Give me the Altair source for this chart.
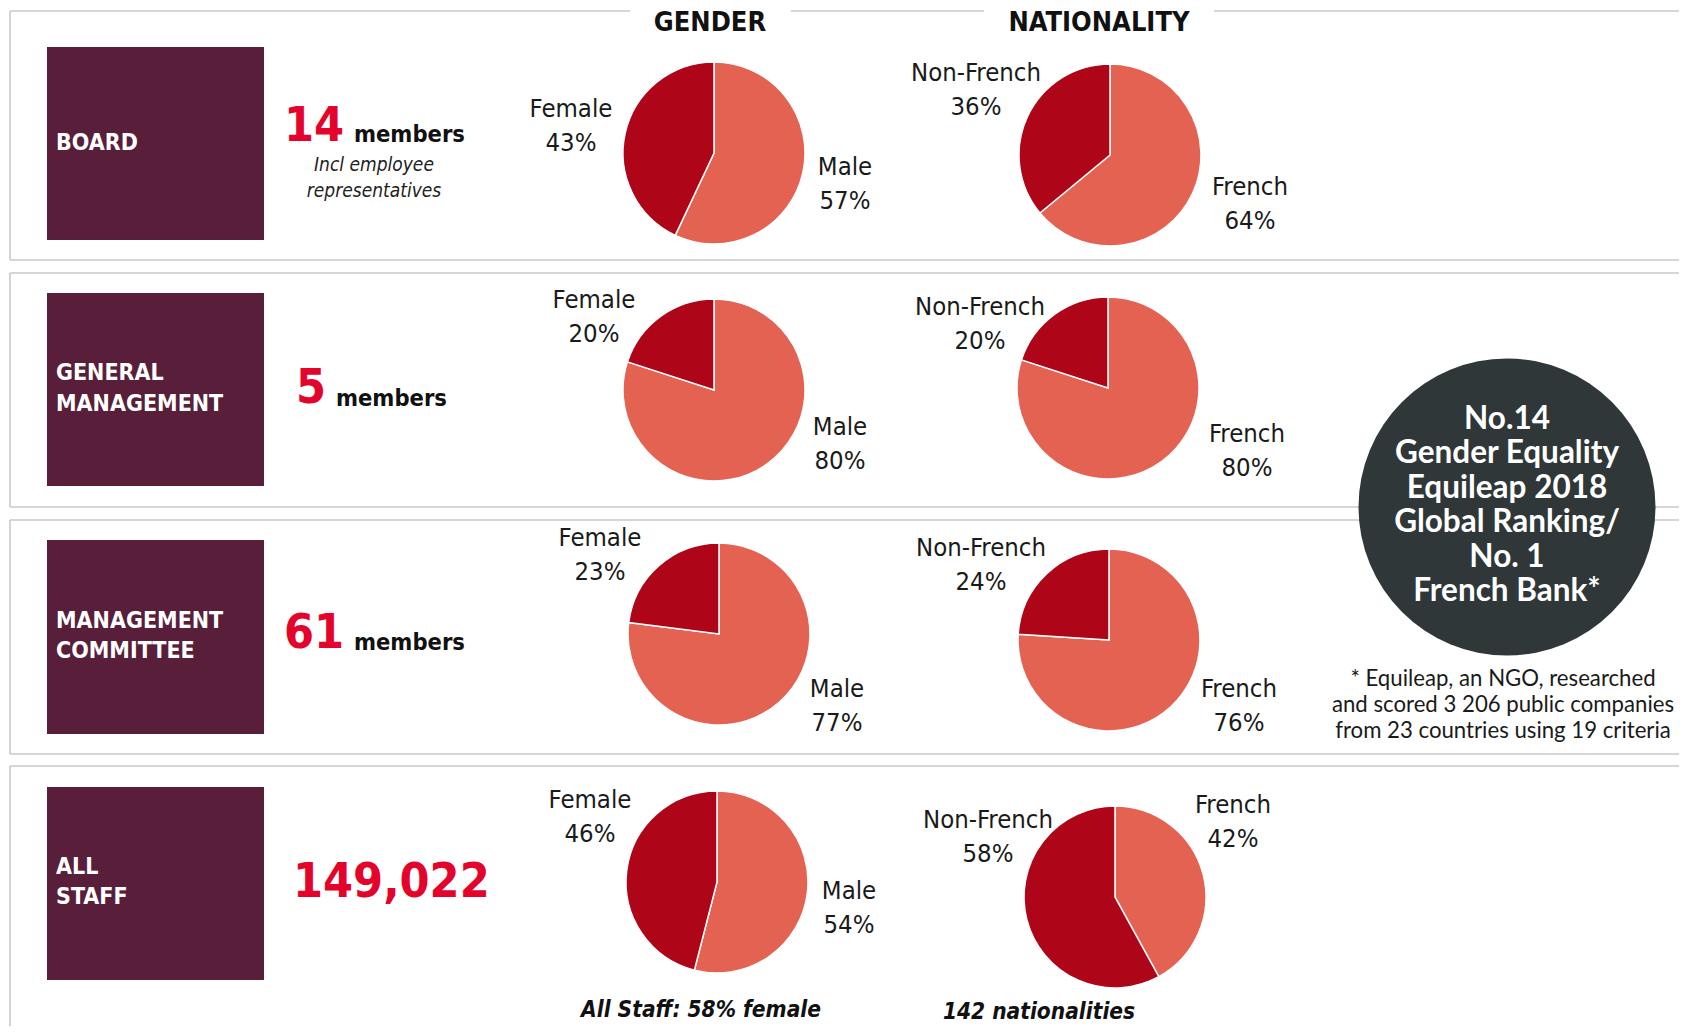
import math
import altair as alt
import pandas as pd

# ---------------- data ----------------
groups = ["BOARD", "GENERAL MANAGEMENT", "MANAGEMENT COMMITTEE", "ALL STAFF"]
group_lines = [["BOARD"], ["GENERAL", "MANAGEMENT"], ["MANAGEMENT", "COMMITTEE"], ["ALL", "STAFF"]]
member_counts = ["14", "5", "61", "149,022"]
member_word = ["members", "members", "members", ""]
female_pct = [43, 20, 23, 46]
male_pct = [57, 80, 77, 54]
non_french_pct = [36, 20, 24, 58]
french_pct = [64, 80, 76, 42]
gender_labels = ["Female", "Male"]
nat_labels = ["Non-French", "French"]
headers = ["GENDER", "NATIONALITY"]
board_note = ["Incl employee", "representatives"]
badge_lines = ["No.14", "Gender Equality", "Equileap 2018", "Global Ranking/", "No. 1", "French Bank*"]
footnote_lines = ["* Equileap, an NGO, researched", "and scored 3 206 public companies",
                  "from 23 countries using 19 criteria"]
captions = ["All Staff: 58% female", "142 nationalities"]

# ---------------- layout (page pixels) ----------------
W, H = 1671, 1018
X0, Y0 = 8, 8
XMAX, YMAX = X0 + W, Y0 + H
xs = alt.Scale(domain=[X0, XMAX], range=[0, W])
ys = alt.Scale(domain=[Y0, YMAX], range=[0, H])

COND = "Liberation Sans Narrow, DejaVu Sans Condensed, Roboto, sans-serif"
SANS = "Lato, Open Sans, sans-serif"
GREY = "#c9c9c9"
PURPLE = "#581e3a"
DARK = "#ae0519"
LIGHT = "#e46252"
RED = "#e4032a"
CIRCLE = "#2f3739"

gender_centers = [(714, 153), (714, 390), (719, 634), (717, 882)]
nat_centers = [(1110, 155), (1108, 388), (1109, 640), (1115, 897)]
pie_r = 91
box_y = [(47, 240), (293, 486), (540, 734), (787, 980)]
box_x = (47, 264)
box_label_y = [[143], [373, 404], [621, 651], [867, 897]]
count_pos = [(284, 127), (296, 389), (284, 634), (293, 883)]
member_pos = [(354, 135), (336, 399), (354, 643), (0, 0)]

gender_label_pos = [((571, 109), (845, 167)), ((594, 300), (840, 427)),
                    ((600, 538), (837, 689)), ((590, 800), (849, 891))]
nat_label_pos = [((976, 73), (1250, 187)), ((980, 307), (1247, 434)),
                 ((981, 548), (1239, 689)), ((988, 820), (1233, 805))]
LINE_GAP = 34

X = lambda f: alt.X(f, type="quantitative", scale=xs, axis=None)
Y = lambda f: alt.Y(f, type="quantitative", scale=ys, axis=None)

# ---------------- panel lines ----------------
seg = []
def hline(y, xa, xb):
    seg.append(dict(x=xa, x2=min(xb, XMAX), y=y, y2=y))
def vline(x, ya, yb):
    seg.append(dict(x=x, x2=x, y=ya, y2=min(yb, YMAX)))

hline(11, 10, 630); hline(11, 791, 984); hline(11, 1214, XMAX)
hline(260, 10, XMAX); vline(10, 11, 260)
hline(273, 10, XMAX); hline(507, 10, XMAX); vline(10, 273, 507)
hline(520, 10, XMAX); hline(754, 10, XMAX); vline(10, 520, 754)
hline(766, 10, XMAX); vline(10, 766, YMAX)
lines = alt.Chart(pd.DataFrame(seg)).mark_rule(color=GREY, strokeWidth=1.6).encode(
    x=X("x"), x2="x2", y=Y("y"), y2="y2")

# ---------------- purple boxes ----------------
boxes = pd.DataFrame([dict(x=box_x[0], x2=box_x[1], y=a, y2=b) for a, b in box_y])
box_layer = alt.Chart(boxes).mark_rect(color=PURPLE).encode(x=X("x"), x2="x2", y=Y("y"), y2="y2")

# ---------------- pies ----------------
pie_rows = []
for i in range(4):
    cx, cy = gender_centers[i]
    pie_rows.append(dict(pie=f"g{i}", order=0, value=male_pct[i], kind="light", cx=cx, cy=cy))
    pie_rows.append(dict(pie=f"g{i}", order=1, value=female_pct[i], kind="dark", cx=cx, cy=cy))
    cx, cy = nat_centers[i]
    pie_rows.append(dict(pie=f"n{i}", order=0, value=french_pct[i], kind="light", cx=cx, cy=cy))
    pie_rows.append(dict(pie=f"n{i}", order=1, value=non_french_pct[i], kind="dark", cx=cx, cy=cy))
pies = alt.Chart(pd.DataFrame(pie_rows)).transform_window(
    cum="sum(value)", groupby=["pie"], sort=[alt.SortField("order")], frame=[None, 0]
).transform_calculate(start="datum.cum - datum.value").mark_arc(
    radius=pie_r, stroke="white", strokeWidth=1.5
).encode(
    x=X("cx"), y=Y("cy"),
    theta=alt.Theta("start:Q", stack=None, scale=alt.Scale(domain=[0, 100], range=[0, 2 * math.pi])),
    theta2="cum:Q",
    color=alt.Color("kind:N", scale=alt.Scale(domain=["light", "dark"], range=[LIGHT, DARK]), legend=None),
)

# ---------------- badge circle ----------------
badge_r = 148.5
badge = alt.Chart(pd.DataFrame([dict(x=1507, y=507)])).mark_circle(
    size=(2 * badge_r) ** 2, color=CIRCLE, opacity=1).encode(x=X("x"), y=Y("y"))

# ---------------- texts ----------------
def text_layer(rows, **kw):
    base = dict(baseline="middle")
    base.update(kw)
    return alt.Chart(pd.DataFrame(rows)).mark_text(**base).encode(x=X("x"), y=Y("y"), text="t:N")

header_rows = [dict(x=710, y=10, t=headers[0]), dict(x=1099, y=10, t=headers[1])]
box_rows = []
for lines_, ys_ in zip(group_lines, box_label_y):
    for t, yy in zip(lines_, ys_):
        box_rows.append(dict(x=56, y=yy, t=t))
count_rows = [dict(x=p[0], y=p[1], t=c) for p, c in zip(count_pos, member_counts)]
member_rows = [dict(x=p[0], y=p[1], t=w) for p, w in zip(member_pos, member_word) if w]
note_rows = [dict(x=374, y=165, t=board_note[0]), dict(x=374, y=191, t=board_note[1])]

pie_label_rows = []
for i in range(4):
    (fx, fy), (mx, my) = gender_label_pos[i]
    pie_label_rows += [dict(x=fx, y=fy, t=gender_labels[0]), dict(x=fx, y=fy + LINE_GAP, t=f"{female_pct[i]}%"),
                       dict(x=mx, y=my, t=gender_labels[1]), dict(x=mx, y=my + LINE_GAP, t=f"{male_pct[i]}%")]
    (nx, ny), (frx, fry) = nat_label_pos[i]
    pie_label_rows += [dict(x=nx, y=ny, t=nat_labels[0]), dict(x=nx, y=ny + LINE_GAP, t=f"{non_french_pct[i]}%"),
                       dict(x=frx, y=fry, t=nat_labels[1]), dict(x=frx, y=fry + LINE_GAP, t=f"{french_pct[i]}%")]

badge_rows = [dict(x=1507, y=420 + 34.4 * k, t=t) for k, t in enumerate(badge_lines)]
foot_rows = [dict(x=1503, y=679 + 26 * k, t=t) for k, t in enumerate(footnote_lines)]
caption_rows = [dict(x=701, y=1010, t=captions[0]), dict(x=1039, y=1012, t=captions[1])]

texts = [
    text_layer(header_rows, font=COND, fontSize=27, fontWeight="bold", color="#111111", align="center",
               baseline="top"),
    text_layer(box_rows, font=COND, fontSize=23, fontWeight="bold", color="white", align="left"),
    text_layer(count_rows, font=COND, fontSize=48, fontWeight="bold", color=RED, align="left"),
    text_layer(member_rows, font=COND, fontSize=23.5, fontWeight="bold", color="#111111", align="left"),
    text_layer(note_rows, font=COND, fontSize=19, fontStyle="italic", color="#222222", align="center"),
    text_layer(pie_label_rows, font=COND, fontSize=25.5, color="#1a1a1a", align="center"),
    text_layer(badge_rows, font=SANS, fontSize=31.5, fontWeight="bold", color="white", align="center"),
    text_layer(foot_rows, font=SANS, fontSize=22.2, color="#1a1a1a", align="center"),
    text_layer(caption_rows, font=COND, fontSize=22.5, fontWeight="bold", fontStyle="italic",
               color="#111111", align="center"),
]

chart = alt.layer(lines, box_layer, pies, badge, *texts).properties(
    width=W, height=H, autosize=alt.AutoSizeParams(type="none"), padding=0
).configure_view(stroke=None)

chart.save("out.html", embed_options={"renderer": "svg", "actions": False})
